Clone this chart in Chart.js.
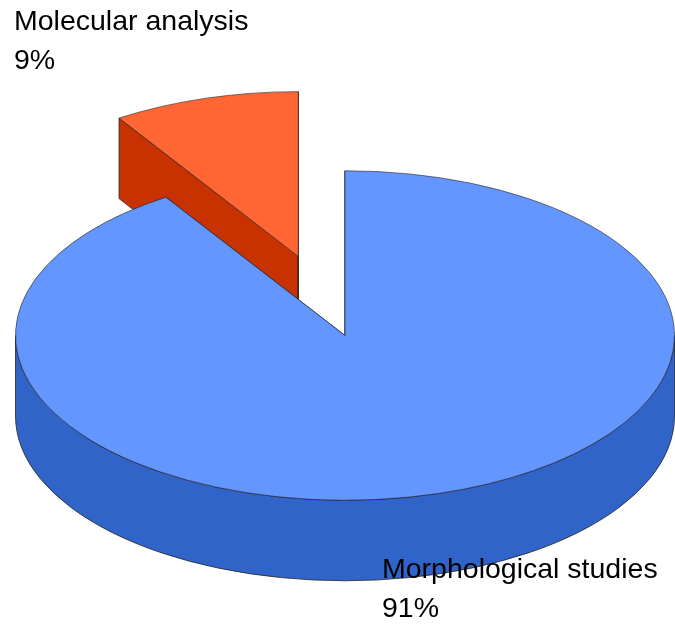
<!DOCTYPE html>
<html>
<head>
<meta charset="utf-8">
<title>Pie</title>
<script src="https://cdn.jsdelivr.net/npm/chart.js@4/dist/chart.umd.min.js"></script>
<style>
    html, body { margin: 0; padding: 0; background: #fff; }
    canvas { display: block; }
</style>
</head>
<body>
<canvas id="chartPie" width="675" height="628"></canvas>
<script>
// Dados do gráfico
const categorias = ['Molecular analysis', 'Morphological studies'];
const valores = [9.15, 90.85];
const rotulos = ['9%', '91%'];
const cores = ['#FF6633', '#6496FF'];
const coresLado = ['#C83200', '#3164C9'];

// Desenha a pizza achatada com a lateral, usando os arcos calculados pelo Chart.js
const pizza3d = {
    id: 'pizza3d',
    beforeDatasetDraw(chart, args, opts) {
        const ctx = chart.ctx;
        const arcos = chart.getDatasetMeta(args.index).data;
        arcos.forEach((arco, i) => {
            const meio = (arco.startAngle + arco.endAngle) / 2;
            const cx = arco.x + Math.cos(meio) * opts.explode[i];
            const cy = arco.y + Math.sin(meio) * opts.explode[i] * opts.achatar;
            const rx = arco.outerRadius;
            const ry = rx * opts.achatar;

            ctx.save();
            ctx.fillStyle = coresLado[i];
            ctx.strokeStyle = opts.linha;
            ctx.lineWidth = opts.larguraLinha;
            ctx.lineJoin = 'round';

            // paredes retas da fatia
            [arco.startAngle, arco.endAngle].forEach(a => {
                const px = cx + Math.cos(a) * rx;
                const py = cy + Math.sin(a) * ry;
                ctx.beginPath();
                ctx.moveTo(cx, cy);
                ctx.lineTo(px, py);
                ctx.lineTo(px, py + opts.altura);
                ctx.lineTo(cx, cy + opts.altura);
                ctx.closePath();
                ctx.fill();
                ctx.stroke();
            });

            // parede externa: só a metade da frente aparece
            let ini = arco.startAngle;
            let fim = arco.endAngle;
            if (fim > 0 && ini < Math.PI) {
                ini = Math.max(ini, 0);
                fim = Math.min(fim, Math.PI);
                ctx.beginPath();
                ctx.ellipse(cx, cy, rx, ry, 0, ini, fim);
                ctx.ellipse(cx, cy + opts.altura, rx, ry, 0, fim, ini, true);
                ctx.closePath();
                ctx.fill();
                ctx.stroke();
            }

            // tampo: o próprio arco do Chart.js, achatado
            ctx.translate(cx, cy);
            ctx.scale(1, opts.achatar);
            ctx.translate(-arco.x, -arco.y);
            arco.draw(ctx);
            ctx.restore();
        });
        return false;
    },
    afterDraw(chart, args, opts) {
        const ctx = chart.ctx;
        ctx.save();
        ctx.fillStyle = '#000';
        ctx.font = opts.fonte;
        ctx.textAlign = 'left';
        ctx.textBaseline = 'alphabetic';
        categorias.forEach((nome, i) => {
            const pos = opts.posicoes[i];
            ctx.fillText(nome, pos.x, pos.y);
            ctx.fillText(rotulos[i], pos.x, pos.y + opts.entrelinha);
        });
        ctx.restore();
    }
};

new Chart(document.getElementById('chartPie'), {
    type: 'pie',
    data: {
        labels: categorias,
        datasets: [{
            data: valores,
            backgroundColor: cores,
            borderColor: '#222',
            borderWidth: 0.8,
            radius: 329.5,
            clip: false
        }]
    },
    options: {
        responsive: false,
        animation: false,
        // a fatia pequena termina no topo
        rotation: -valores[0] / 100 * 360,
        layout: { padding: { left: 15, right: 0, top: 43, bottom: 0 } },
        plugins: {
            legend: { display: false },
            tooltip: { enabled: false },
            pizza3d: {
                achatar: 0.5,
                altura: 80.5,
                explode: [165, 0],
                linha: '#222',
                larguraLinha: 0.8,
                fonte: '28.5px "Liberation Sans"',
                entrelinha: 39,
                posicoes: [{ x: 14, y: 30 }, { x: 382, y: 578 }]
            }
        }
    },
    plugins: [pizza3d]
});
</script>
</body>
</html>
